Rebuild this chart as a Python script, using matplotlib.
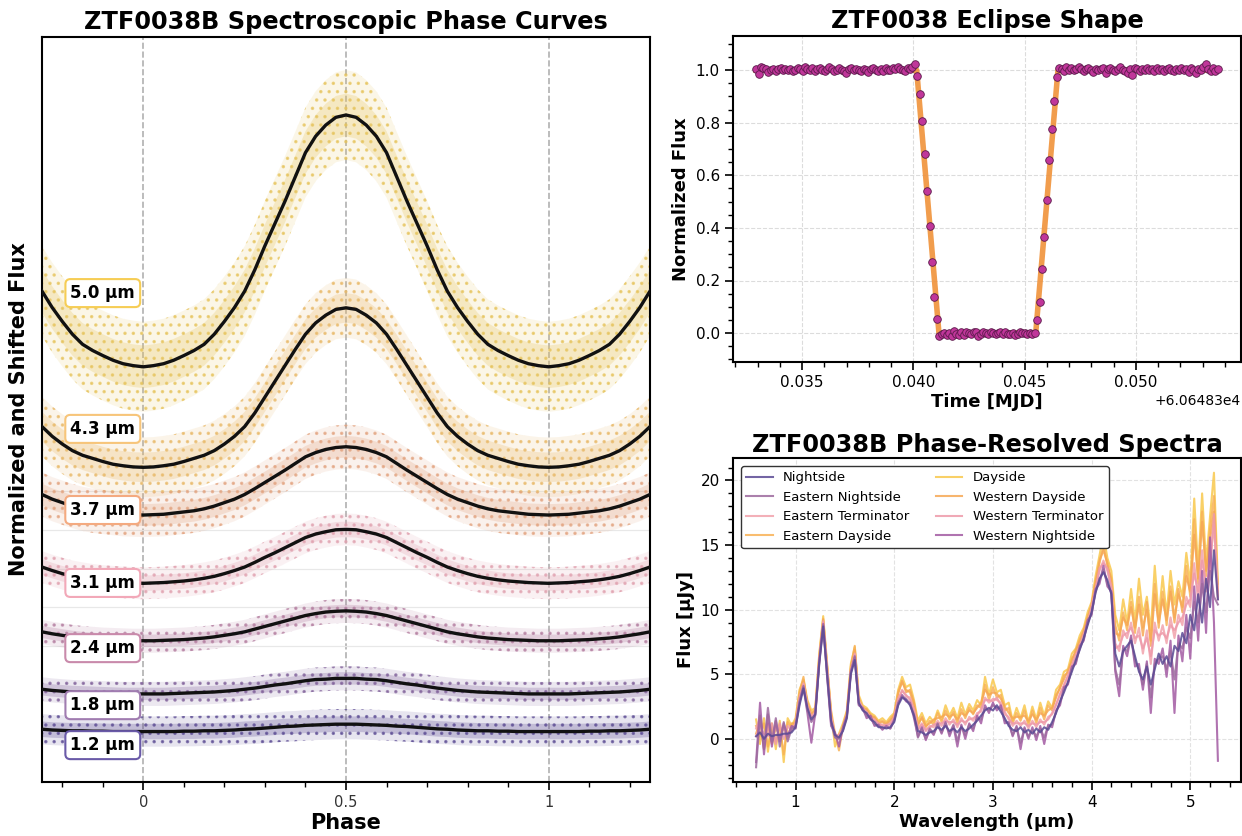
"""Recreate the ZTF0038B phase-curve / eclipse / spectra overview figure."""

import matplotlib
import matplotlib.pyplot as plt
import numpy as np
from matplotlib.ticker import AutoMinorLocator, MultipleLocator

matplotlib.use("Agg")
plt.rcParams["font.family"] = ["DejaVu Sans"]
plt.rcParams["hatch.linewidth"] = 1.3

# ---------------------------------------------------------------- phase curves
PHASE = np.round(np.arange(-0.25, 1.2501, 0.025), 3)

# model curves (shifted flux units), read every 0.025 in phase
CURVE_12 = [0.86, 0.84, 0.83, 0.82, 0.82, 0.81, 0.81, 0.80, 0.80, 0.80, 0.80,
            0.80, 0.80, 0.80, 0.81, 0.81, 0.82, 0.82, 0.83, 0.84, 0.86, 0.87, 0.89, 0.91, 0.93, 0.94,
            0.96, 0.97, 0.98, 0.99, 0.99,
            0.99, 0.98, 0.97, 0.96, 0.94, 0.93, 0.91, 0.89, 0.87, 0.86, 0.84, 0.83, 0.82, 0.82, 0.81,
            0.81, 0.80, 0.80, 0.80, 0.80,
            0.80, 0.80, 0.80, 0.81, 0.81, 0.82, 0.82, 0.83, 0.84, 0.86]
CURVE_18 = [1.89, 1.86, 1.84, 1.82, 1.81, 1.80, 1.79, 1.78, 1.77, 1.77, 1.77,
            1.77, 1.77, 1.78, 1.79, 1.80, 1.81, 1.82, 1.84, 1.86, 1.89, 1.92, 1.96, 2.00, 2.03, 2.07,
            2.11, 2.14, 2.15, 2.17, 2.17,
            2.17, 2.15, 2.14, 2.11, 2.07, 2.03, 2.00, 1.96, 1.92, 1.89, 1.86, 1.84, 1.82, 1.81, 1.80,
            1.79, 1.78, 1.77, 1.77, 1.77,
            1.77, 1.77, 1.78, 1.79, 1.80, 1.81, 1.82, 1.84, 1.86, 1.89]
CURVE_24 = [3.37, 3.32, 3.28, 3.24, 3.21, 3.19, 3.17, 3.16, 3.15, 3.14, 3.14,
            3.14, 3.15, 3.16, 3.17, 3.19, 3.21, 3.24, 3.28, 3.32, 3.37, 3.44, 3.51, 3.58, 3.65, 3.72,
            3.79, 3.84, 3.88, 3.90, 3.91,
            3.90, 3.88, 3.84, 3.79, 3.72, 3.65, 3.58, 3.51, 3.44, 3.37, 3.32, 3.28, 3.24, 3.21, 3.19,
            3.17, 3.16, 3.15, 3.14, 3.14,
            3.14, 3.15, 3.16, 3.17, 3.19, 3.21, 3.24, 3.28, 3.32, 3.37]
CURVE_31 = [5.04, 4.95, 4.87, 4.80, 4.75, 4.71, 4.68, 4.66, 4.64, 4.63, 4.62,
            4.63, 4.64, 4.66, 4.68, 4.71, 4.75, 4.80, 4.87, 4.95, 5.04, 5.16, 5.29, 5.41, 5.54, 5.67,
            5.80, 5.89, 5.95, 6.00, 6.01,
            6.00, 5.95, 5.89, 5.80, 5.67, 5.54, 5.41, 5.29, 5.16, 5.04, 4.95, 4.87, 4.80, 4.75, 4.71,
            4.68, 4.66, 4.64, 4.63, 4.62,
            4.63, 4.64, 4.66, 4.68, 4.71, 4.75, 4.80, 4.87, 4.95, 5.04]
CURVE_37 = [6.91, 6.79, 6.70, 6.61, 6.54, 6.49, 6.46, 6.43, 6.40, 6.39, 6.38,
            6.39, 6.40, 6.43, 6.46, 6.49, 6.54, 6.61, 6.70, 6.79, 6.91, 7.06, 7.22, 7.38, 7.54, 7.71,
            7.88, 7.99, 8.07, 8.12, 8.14,
            8.12, 8.07, 7.99, 7.88, 7.71, 7.54, 7.38, 7.22, 7.06, 6.91, 6.79, 6.70, 6.61, 6.54, 6.49,
            6.46, 6.43, 6.40, 6.39, 6.38,
            6.39, 6.40, 6.43, 6.46, 6.49, 6.54, 6.61, 6.70, 6.79, 6.91]
CURVE_43 = [8.66, 8.41, 8.21, 8.04, 7.92, 7.84, 7.76, 7.69, 7.65, 7.62, 7.61,
            7.62, 7.65, 7.69, 7.76, 7.84, 7.92, 8.04, 8.21, 8.41, 8.66, 9.01, 9.42, 9.83, 10.24, 10.65,
            11.04, 11.33, 11.53, 11.68, 11.72,
            11.68, 11.53, 11.33, 11.04, 10.65, 10.24, 9.83, 9.42, 9.01, 8.66, 8.41, 8.21, 8.04, 7.92,
            7.84, 7.76, 7.69, 7.65, 7.62, 7.61,
            7.62, 7.65, 7.69, 7.76, 7.84, 7.92, 8.04, 8.21, 8.41, 8.66]
CURVE_50 = [12.15, 11.73, 11.37, 11.04, 10.78, 10.62, 10.49, 10.37, 10.28, 10.23, 10.20,
            10.23, 10.28, 10.37, 10.49, 10.62, 10.78, 11.04, 11.37, 11.73, 12.15, 12.70, 13.32, 13.90,
            14.48, 15.10, 15.72, 16.14, 16.43, 16.63, 16.69,
            16.63, 16.43, 16.14, 15.72, 15.10, 14.48, 13.90, 13.32, 12.70, 12.15, 11.73, 11.37, 11.04,
            10.78, 10.62, 10.49, 10.37, 10.28, 10.23, 10.20,
            10.23, 10.28, 10.37, 10.49, 10.62, 10.78, 11.04, 11.37, 11.73, 12.15]

BAND_NAMES = ["1.2 µm", "1.8 µm", "2.4 µm", "3.1 µm", "3.7 µm", "4.3 µm", "5.0 µm"]
BAND_CURVES = [CURVE_12, CURVE_18, CURVE_24, CURVE_31, CURVE_37, CURVE_43, CURVE_50]
# half-width of the point cloud (outer) and of its dense core
BAND_SPREAD = [0.39, 0.31, 0.31, 0.41, 0.57, 0.77, 1.16]
BAND_CORE = [0.20, 0.16, 0.16, 0.20, 0.28, 0.38, 0.55]
LABEL_Y = [0.45, 1.48, 2.95, 4.63, 6.51, 8.60, 12.10]
BAND_COLORS = ["#5a4a92", "#7e5e98", "#b27b9e", "#e0a0ae", "#e2a27e", "#e8b866", "#e6c35a"]
LABEL_EDGES = ["#6a5aa8", "#a07cb0", "#c98aab", "#f2a8b8", "#f4aa80", "#f7c57a", "#f6cd55"]

# ---------------------------------------------------------------- eclipse
T_REF = 60648.3
ECLIPSE_FLUX = [
    1.003, 0.984, 1.012, 1.008, 1.004, 0.993, 1.001, 1.006, 0.998, 1.003,
    1.008, 1.002, 1.006, 0.999, 1.004, 0.997, 1.001, 1.009, 1.003, 0.998,
    1.011, 1.004, 1.000, 1.007, 0.995, 1.003, 1.009, 1.001, 0.997, 1.006,
    1.012, 1.004, 0.998, 1.002, 1.007, 1.001, 0.996, 0.989, 1.003, 1.008,
    0.999, 1.005, 1.002, 0.997, 1.006, 1.000, 0.992, 1.004, 1.009, 1.001,
    0.998, 1.003, 0.995, 1.007, 1.002, 0.999, 1.010, 1.004, 1.013, 1.006,
    1.001, 0.997, 1.008, 1.003, 1.012, 1.022,
    0.978, 0.908, 0.806, 0.682, 0.541, 0.407, 0.271, 0.137, 0.055,
    -0.012, -0.004, 0.002, -0.008, 0.001, -0.010, 0.008, -0.003, -0.009, 0.004,
    -0.006, 0.005, 0.001, -0.004, 0.006, 0.003, -0.011, -0.002, 0.003, 0.002,
    -0.005, 0.004, 0.001, -0.003, 0.002, 0.005, -0.004, 0.003, -0.002, -0.004,
    0.001, -0.006, -0.003, 0.004, -0.001, 0.002, -0.005, 0.001, -0.002, 0.002,
    0.051, 0.119, 0.244, 0.367, 0.508, 0.659, 0.776, 0.882, 0.974,
    1.009, 1.004, 0.998, 1.013, 1.002, 1.008, 0.999, 1.006, 1.011, 1.003,
    0.997, 1.005, 1.010, 1.002, 0.994, 1.006, 0.999, 1.004, 1.008, 0.991,
    1.003, 1.009, 1.001, 0.996, 1.005, 1.011, 1.002, 0.998, 0.988, 1.004,
    0.982, 1.010, 1.003, 0.997, 1.006, 1.001, 1.008, 0.999, 1.004, 0.995,
    1.009, 1.002, 1.006, 0.997, 1.003, 1.010, 1.001, 0.996, 1.005, 1.000,
    1.007, 0.999, 1.004, 0.993, 1.008, 1.002, 0.990, 1.006, 1.001, 1.011,
    1.025, 1.006, 0.998, 1.009, 0.996, 1.003,
]
ECLIPSE_T_FIRST = 0.03293
ECLIPSE_T_LAST = 0.05369
MODEL_T = [0.03293, 0.04015, 0.04115, 0.04550, 0.04650, 0.05369]
MODEL_FLUX = [1.0, 1.0, 0.0, 0.0, 1.0, 1.0]

# ---------------------------------------------------------------- spectra
WAVELENGTH = np.round(np.arange(0.60, 5.30, 0.04), 2)

NIGHTSIDE = [
    0.2, 0.5, 0.0, 0.4, 0.2, 0.3, 0.3, 0.4, 0.4, 0.5,
    0.9, 2.6, 3.9, 2.4, 1.5, 1.9, 5.8, 8.7, 5.0, 1.4,
    0.3, 0.1, 0.6, 1.6, 5.0, 6.1, 2.8, 2.2, 2.0, 1.5,
    1.3, 0.9, 0.9, 0.8, 0.9, 1.3, 2.6, 3.2, 3.0, 2.6,
    1.8, 0.6, 0.5, 0.3, 0.5, 0.6, 0.9, 0.7, 1.0, 0.6,
    0.8, 0.5, 0.9, 0.6, 0.8, 1.1, 1.4, 1.8, 2.2, 2.4,
    2.2, 2.6, 2.1, 1.6, 1.0, 0.7, 0.6, 0.9, 0.5, 0.7,
    0.4, 0.8, 0.5, 0.9, 0.7, 1.3, 2.0, 2.9, 3.6, 4.4,
    5.2, 6.1, 6.9, 7.8, 8.8, 9.8, 11.3, 12.4, 12.9, 12.3,
    11.2, 6.6, 5.6, 6.8, 7.2, 7.6, 6.4, 5.2, 4.6, 5.6,
    4.2, 5.4, 6.6, 5.8, 6.4, 5.6, 7.2, 6.8, 8.2, 7.4,
    9.6, 8.4, 11.2, 9.0, 12.4, 10.2, 14.6, 10.8,
]
EASTERN_NIGHTSIDE = [
    -2.2, 1.8, -0.8, 2.4, -0.2, 1.6, -0.6, 1.3, -0.2, 0.8,
    1.0, 2.9, 4.1, 2.2, 1.3, 1.8, 5.9, 8.8, 4.9, 1.2,
    0.1, 0.0, 0.7, 1.7, 5.1, 6.4, 2.7, 2.3, 1.8, 1.6,
    1.1, 1.0, 0.8, 0.9, 0.8, 1.4, 2.8, 3.3, 3.1, 2.7,
    1.9, 0.1, 0.8, 0.0, 0.8, 0.4, 1.2, 0.5, 1.2, 0.4,
    1.1, -0.2, 1.0, 0.3, 1.1, 0.8, 1.6, 1.5, 2.4, 2.2,
    2.6, 2.4, 2.4, 1.4, 1.2, 0.3, 0.9, -0.3, 0.8, 0.2,
    0.7, 0.2, 0.8, 0.1, 1.0, 1.1, 2.1, 2.8, 3.8, 4.3,
    5.4, 5.9, 7.0, 7.7, 9.0, 9.7, 11.4, 12.2, 13.1, 12.0,
    11.3, 5.4, 4.2, 7.0, 6.8, 7.8, 6.0, 5.4, 4.2, 5.8,
    3.2, 5.8, 6.2, 6.4, 5.4, 6.8, 4.6, 7.4, 7.0, 8.6,
    7.8, 10.6, 9.0, 12.0, 9.8, 13.0, 11.0, 10.4,
]
EASTERN_TERMINATOR = [
    0.8, 1.6, -0.6, 1.2, 0.0, 1.0, 0.1, 0.8, 0.3, 0.9,
    1.1, 3.0, 4.3, 2.5, 1.6, 2.1, 6.0, 9.0, 5.3, 1.6,
    0.3, 0.2, 0.7, 1.9, 5.2, 6.6, 3.0, 2.3, 2.1, 1.6,
    1.5, 1.1, 1.1, 1.0, 1.2, 1.6, 3.0, 3.8, 3.3, 3.2,
    2.2, 0.8, 1.2, 0.6, 1.0, 0.9, 1.4, 1.0, 1.6, 1.1,
    1.5, 0.9, 1.6, 1.1, 1.7, 1.4, 2.0, 2.1, 3.2, 2.8,
    3.1, 3.0, 2.8, 1.9, 1.7, 1.0, 1.4, 1.0, 1.4, 0.8,
    1.4, 0.9, 1.5, 1.1, 1.7, 1.9, 2.7, 3.4, 4.2, 4.8,
    5.7, 6.4, 7.2, 8.0, 9.0, 10.1, 11.6, 13.0, 13.8, 13.0,
    11.8, 7.4, 6.8, 8.4, 7.8, 9.0, 7.4, 8.6, 6.6, 8.4,
    5.8, 9.0, 7.6, 8.8, 7.4, 9.4, 7.8, 9.6, 8.8, 11.0,
    10.2, 13.6, 10.6, 14.6, 11.4, 13.6, 16.6, 11.2,
]
EASTERN_DAYSIDE = [
    1.0, 0.2, 1.2, -0.6, 0.9, -0.2, 1.1, -1.2, 1.3, 0.8,
    1.4, 3.6, 4.8, 2.6, 2.0, 2.2, 6.4, 9.3, 5.5, 2.2,
    0.4, -0.9, 1.0, 2.0, 5.6, 7.2, 3.0, 2.5, 2.2, 1.9,
    1.6, 1.3, 1.4, 1.2, 1.5, 1.9, 3.6, 4.4, 3.8, 3.6,
    2.6, 1.2, 1.6, 0.9, 1.4, 1.1, 2.0, 1.3, 2.2, 1.5,
    2.1, 1.2, 2.3, 1.6, 2.4, 1.9, 2.6, 2.4, 4.2, 3.0,
    4.0, 3.2, 3.4, 2.2, 2.4, 1.2, 2.0, 1.4, 2.2, 1.0,
    2.2, 1.2, 2.4, 1.5, 2.6, 2.2, 3.4, 3.9, 4.9, 5.1,
    6.2, 6.7, 7.7, 8.3, 9.5, 10.3, 12.2, 13.6, 15.0, 13.4,
    12.4, 8.8, 7.6, 9.8, 8.4, 10.6, 8.2, 11.0, 8.6, 10.0,
    7.6, 12.0, 8.6, 11.4, 8.8, 11.8, 9.4, 11.2, 10.2, 13.4,
    11.0, 17.0, 12.0, 17.6, 12.6, 16.2, 18.8, 11.4,
]
DAYSIDE = [
    1.5, -0.4, 1.6, -1.0, 1.2, -0.8, 1.4, -1.8, 1.6, 1.0,
    1.6, 3.8, 4.6, 3.0, 2.2, 2.4, 6.6, 9.5, 5.8, 2.0,
    -0.6, 0.4, 1.2, 2.2, 5.8, 7.1, 3.4, 2.6, 2.4, 2.0,
    1.8, 1.4, 1.6, 1.3, 1.7, 2.0, 3.8, 4.8, 4.0, 4.2,
    3.0, 1.4, 2.0, 1.2, 1.7, 1.3, 2.2, 1.5, 2.6, 1.8,
    2.4, 1.6, 2.8, 1.9, 2.7, 2.2, 3.0, 2.6, 4.8, 3.4,
    4.6, 3.6, 3.8, 2.6, 2.8, 1.4, 2.4, 1.6, 2.6, 1.3,
    2.5, 1.5, 2.8, 1.8, 2.9, 2.4, 3.8, 4.2, 5.2, 5.4,
    6.6, 7.0, 8.0, 8.6, 9.8, 10.6, 12.6, 14.2, 15.8, 14.0,
    13.0, 9.6, 8.4, 10.8, 9.0, 11.6, 9.0, 12.4, 9.6, 11.0,
    8.4, 13.4, 9.4, 12.6, 9.6, 13.0, 10.4, 12.2, 11.0, 14.4,
    12.0, 18.6, 13.0, 19.0, 13.6, 17.2, 20.6, 12.0,
]
WESTERN_DAYSIDE = [
    0.4, 1.4, -0.8, 1.1, -0.4, 0.9, 0.2, 1.0, 0.0, 1.2,
    1.2, 3.4, 4.5, 2.8, 1.8, 2.3, 6.2, 9.2, 5.6, 1.8,
    0.2, 0.3, 0.8, 2.1, 5.4, 6.9, 3.2, 2.3, 2.3, 1.7,
    1.7, 1.2, 1.3, 1.1, 1.4, 1.8, 3.5, 4.5, 3.6, 3.8,
    2.8, 1.0, 1.7, 1.0, 1.2, 1.5, 1.6, 1.7, 1.9, 1.7,
    1.9, 1.5, 2.0, 1.8, 2.2, 2.0, 2.4, 2.8, 3.8, 3.4,
    3.6, 3.5, 3.1, 2.5, 2.0, 1.6, 1.7, 1.7, 1.8, 1.4,
    1.9, 1.5, 2.0, 1.8, 2.2, 2.4, 3.2, 4.0, 4.6, 5.3,
    6.0, 6.9, 7.5, 8.4, 9.3, 10.4, 12.0, 13.8, 14.6, 13.6,
    12.2, 8.2, 8.0, 9.4, 8.8, 10.2, 8.6, 10.4, 8.0, 10.6,
    7.2, 11.2, 9.0, 10.8, 9.2, 11.4, 9.0, 11.6, 9.8, 12.6,
    11.4, 15.8, 12.4, 16.8, 13.0, 15.4, 17.6, 11.0,
]
WESTERN_TERMINATOR = [
    0.2, 1.0, 0.4, 0.2, 1.2, -0.4, 1.2, 0.0, 1.0, 0.6,
    1.2, 3.2, 4.2, 2.6, 1.7, 2.0, 6.1, 9.1, 5.4, 1.7,
    0.2, 0.3, 0.8, 1.8, 5.3, 6.5, 2.9, 2.4, 2.0, 1.7,
    1.4, 1.2, 1.0, 1.1, 1.1, 1.7, 3.1, 3.7, 3.4, 3.0,
    2.3, 0.7, 1.1, 0.7, 0.9, 1.1, 1.2, 1.2, 1.4, 1.3,
    1.3, 1.1, 1.4, 1.3, 1.5, 1.6, 1.8, 2.3, 3.0, 3.0,
    2.9, 3.2, 2.6, 2.1, 1.5, 1.2, 1.2, 1.2, 1.2, 1.0,
    1.2, 1.1, 1.3, 1.3, 1.5, 2.0, 2.6, 3.5, 4.1, 4.9,
    5.6, 6.5, 7.1, 8.1, 8.9, 10.2, 11.5, 13.2, 13.6, 13.2,
    11.6, 7.0, 7.2, 8.0, 8.2, 8.6, 7.8, 8.0, 7.0, 7.8,
    6.4, 8.4, 8.0, 8.2, 7.8, 8.8, 8.4, 9.0, 9.4, 10.4,
    10.8, 12.8, 11.4, 13.8, 12.0, 13.0, 17.4, 10.8,
]
WESTERN_NIGHTSIDE = [
    -1.8, 2.8, -1.2, 1.9, -0.6, 1.4, -0.2, 1.2, 0.2, 1.0,
    0.8, 2.8, 4.0, 2.0, -0.3, 2.0, 6.0, 8.9, 4.8, 1.0,
    0.5, -0.6, 0.9, 1.8, 5.2, 6.3, 2.6, 2.4, 1.6, 1.8,
    1.0, 1.1, 0.7, 1.0, 0.8, 1.5, 2.7, 3.4, 2.9, 2.8,
    1.6, 0.2, 0.9, -0.1, 0.7, 0.3, 1.1, 0.4, 1.3, 0.2,
    1.0, -0.6, 1.1, 0.0, 1.2, 0.6, 1.8, 1.2, 2.6, 2.0,
    2.8, 2.2, 2.6, 1.2, 1.3, 0.2, 1.0, -0.8, 0.9, 0.0,
    0.9, -0.1, 1.0, -0.4, 1.1, 0.9, 2.2, 2.6, 4.0, 4.2,
    5.6, 5.8, 7.2, 7.6, 9.2, 9.6, 11.6, 12.0, 13.4, 11.8,
    11.4, 5.2, 3.3, 7.2, 6.4, 8.0, 5.6, 5.8, 3.8, 6.0,
    2.0, 6.2, 5.8, 7.0, 4.8, 7.6, 2.0, 8.0, 6.0, 9.6,
    6.2, 11.8, 7.6, 13.0, 8.2, 15.6, 9.0, -1.7,
]

LEGEND_ORDER = ["Nightside", "Eastern Nightside", "Eastern Terminator", "Eastern Dayside",
                "Dayside", "Western Dayside", "Western Terminator", "Western Nightside"]
SPECTRA = {
    "Nightside": NIGHTSIDE,
    "Eastern Nightside": EASTERN_NIGHTSIDE,
    "Eastern Terminator": EASTERN_TERMINATOR,
    "Eastern Dayside": EASTERN_DAYSIDE,
    "Dayside": DAYSIDE,
    "Western Dayside": WESTERN_DAYSIDE,
    "Western Terminator": WESTERN_TERMINATOR,
    "Western Nightside": WESTERN_NIGHTSIDE,
}
SPECTRA_COLORS = {
    "Nightside": "#5a4a94",
    "Eastern Nightside": "#9c6a9e",
    "Eastern Terminator": "#f2a2ac",
    "Eastern Dayside": "#f8b256",
    "Dayside": "#f9c84c",
    "Western Dayside": "#f6a855",
    "Western Terminator": "#ee9aaa",
    "Western Nightside": "#a35aa3",
}
# back to front
DRAW_ORDER = ["Dayside", "Eastern Dayside", "Western Dayside", "Eastern Terminator",
              "Western Terminator", "Western Nightside", "Eastern Nightside", "Nightside"]


def style_axis(axis):
    for spine in axis.spines.values():
        spine.set_linewidth(1.5)
        spine.set_color("black")
    axis.tick_params(which="major", direction="out", length=6, width=1.2)
    axis.tick_params(which="minor", direction="out", length=3.5, width=1.0)


def draw_phase_panel(axis):
    for ph in (0.0, 0.5, 1.0):
        axis.axvline(ph, color="#b0b0b0", linestyle="--", linewidth=1.2, zorder=0)

    for idx in reversed(range(len(BAND_NAMES))):
        curve = np.asarray(BAND_CURVES[idx])
        spread = BAND_SPREAD[idx]
        core = BAND_CORE[idx]
        color = BAND_COLORS[idx]
        axis.fill_between(PHASE, curve - spread, curve + spread, facecolor=color, alpha=0.14,
                          linewidth=0, zorder=1)
        axis.fill_between(PHASE, curve - spread, curve + spread, facecolor="none", edgecolor=color,
                          hatch="..", linewidth=0, alpha=0.7, zorder=1)
        axis.fill_between(PHASE, curve - core, curve + core, facecolor=color, alpha=0.26,
                          linewidth=0, zorder=1)
        axis.plot(PHASE, curve, color="#111111", linewidth=2.4, zorder=3)
        axis.text(-0.1, LABEL_Y[idx], BAND_NAMES[idx], ha="center", va="center", fontsize=12,
                  fontweight="bold", zorder=5,
                  bbox=dict(boxstyle="round,pad=0.3", facecolor="white", edgecolor=LABEL_EDGES[idx],
                            linewidth=1.5))

    axis.set_xlim(-0.25, 1.25)
    axis.set_ylim(-0.5, 18.7)
    axis.set_xticks([0, 0.5, 1])
    axis.set_xticklabels(["0", "0.5", "1"])
    axis.xaxis.set_minor_locator(MultipleLocator(0.1))
    axis.set_yticks([3, 4, 5, 6, 7])
    axis.set_yticklabels([])
    axis.grid(axis="y", color="#e8e8e8", linewidth=0.9)
    axis.set_axisbelow(True)
    style_axis(axis)
    axis.tick_params(axis="y", length=0)
    axis.tick_params(axis="x", labelsize=10.5, labelcolor="#333333")
    axis.set_title("ZTF0038B Spectroscopic Phase Curves", fontsize=17.3, fontweight="bold", pad=6)
    axis.set_xlabel("Phase", fontsize=15, fontweight="bold", labelpad=2)
    axis.set_ylabel("Normalized and Shifted Flux", fontsize=15, fontweight="bold", labelpad=6)


def draw_eclipse_panel(axis):
    times = T_REF + np.linspace(ECLIPSE_T_FIRST, ECLIPSE_T_LAST, len(ECLIPSE_FLUX))
    model_times = T_REF + np.asarray(MODEL_T)
    axis.plot(model_times, MODEL_FLUX, color="#f0923a", linewidth=4, alpha=0.9, zorder=2)
    axis.scatter(times, ECLIPSE_FLUX, s=30, color="#c0369a", edgecolor="#5a1a4a", linewidth=0.6,
                 zorder=3)
    axis.set_ylim(-0.11, 1.13)
    axis.yaxis.set_major_locator(MultipleLocator(0.2))
    axis.yaxis.set_minor_locator(AutoMinorLocator(4))
    axis.xaxis.set_minor_locator(AutoMinorLocator(5))
    axis.grid(True, linestyle="--", color="#dcdcdc", linewidth=0.8)
    axis.set_axisbelow(True)
    style_axis(axis)
    axis.tick_params(labelsize=11)
    axis.xaxis.get_offset_text().set_fontsize(10)
    axis.set_title("ZTF0038 Eclipse Shape", fontsize=17.3, fontweight="bold", pad=6)
    axis.set_xlabel("Time [MJD]", fontsize=13, fontweight="bold", labelpad=2)
    axis.set_ylabel("Normalized Flux", fontsize=13, fontweight="bold")


def draw_spectra_panel(axis):
    handles = {}
    for name in DRAW_ORDER:
        (line,) = axis.plot(WAVELENGTH, SPECTRA[name], color=SPECTRA_COLORS[name], linewidth=1.5,
                            alpha=0.85, label=name)
        handles[name] = line
    axis.legend([handles[n] for n in LEGEND_ORDER], LEGEND_ORDER, ncol=2, loc="upper left",
                fontsize=9.5, frameon=True, edgecolor="#333333", framealpha=1.0, borderaxespad=0.6)
    axis.xaxis.set_major_locator(MultipleLocator(1))
    axis.xaxis.set_minor_locator(AutoMinorLocator(5))
    axis.yaxis.set_major_locator(MultipleLocator(5))
    axis.yaxis.set_minor_locator(AutoMinorLocator(5))
    axis.grid(True, linestyle="--", color="#e2e2e2", linewidth=0.8)
    axis.set_axisbelow(True)
    style_axis(axis)
    axis.tick_params(labelsize=11)
    axis.set_title("ZTF0038B Phase-Resolved Spectra", fontsize=17.3, fontweight="bold", pad=4)
    axis.set_xlabel("Wavelength (µm)", fontsize=13, fontweight="bold", labelpad=2)
    axis.set_ylabel("Flux [µJy]", fontsize=13, fontweight="bold")


def main():
    fig = plt.figure(figsize=(12.42, 8.36), dpi=100)
    ax_phase = fig.add_axes([42 / 1242, 1 - 782 / 836, 608 / 1242, 745 / 836])
    ax_ecl = fig.add_axes([733 / 1242, 1 - 362 / 836, 508 / 1242, 326 / 836])
    ax_spec = fig.add_axes([733 / 1242, 1 - 782 / 836, 508 / 1242, 324 / 836])

    draw_phase_panel(ax_phase)
    draw_eclipse_panel(ax_ecl)
    draw_spectra_panel(ax_spec)

    fig.savefig("out.png", dpi=100)
    plt.close(fig)


if __name__ == "__main__":
    main()
